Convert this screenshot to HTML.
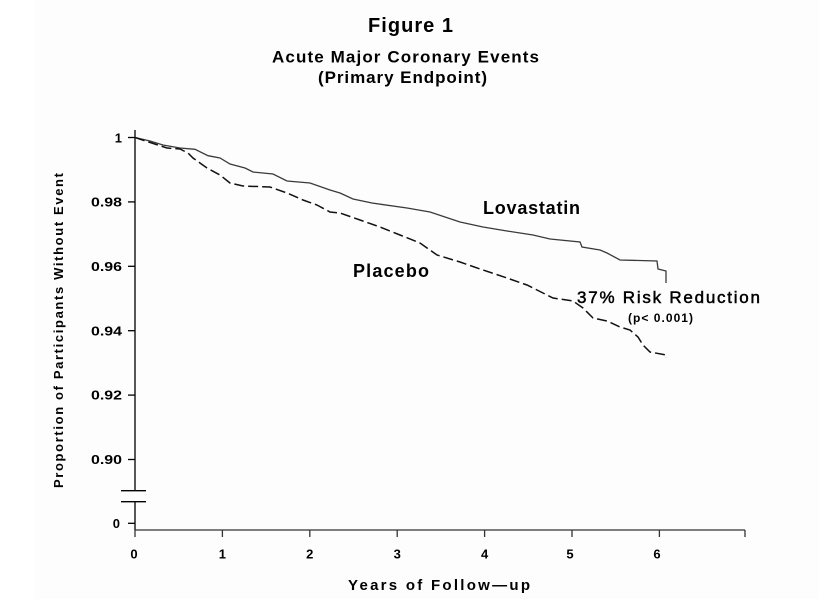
<!DOCTYPE html>
<html>
<head>
<meta charset="utf-8">
<style>
html,body{margin:0;padding:0;background:#fff;}
body{width:819px;height:599px;overflow:hidden;}
svg{display:block;}
text{font-family:"Liberation Sans",Arial,sans-serif;fill:#000;}
</style>
</head>
<body>
<svg width="819" height="599" viewBox="0 0 819 599" xmlns="http://www.w3.org/2000/svg">
<rect x="0" y="0" width="819" height="599" fill="#ffffff"/>
<rect x="35" y="0" width="784" height="599" fill="#fdfdfd"/>

<!-- Titles -->
<text x="368" y="32" font-size="20" font-weight="bold" textLength="85" lengthAdjust="spacing">Figure 1</text>
<text x="272" y="62.5" font-size="17" font-weight="bold" textLength="267" lengthAdjust="spacing">Acute Major Coronary Events</text>
<text x="318" y="83" font-size="17" font-weight="bold" textLength="169" lengthAdjust="spacing">(Primary Endpoint)</text>

<!-- Y axis -->
<g stroke="#000" stroke-width="1.3" fill="none">
<line x1="135" y1="130" x2="135" y2="490.7"/>
<line x1="135" y1="501.7" x2="135" y2="530"/>
<line x1="121" y1="490.7" x2="146" y2="490.7"/>
<line x1="121" y1="501.7" x2="146" y2="501.7"/>
<line x1="128" y1="137.5" x2="135" y2="137.5"/>
<line x1="128" y1="201.9" x2="135" y2="201.9"/>
<line x1="128" y1="266.3" x2="135" y2="266.3"/>
<line x1="128" y1="330.7" x2="135" y2="330.7"/>
<line x1="128" y1="395.1" x2="135" y2="395.1"/>
<line x1="128" y1="459.5" x2="135" y2="459.5"/>
<line x1="128" y1="523.3" x2="135" y2="523.3"/>
</g>
<!-- X axis -->
<g stroke="#333" stroke-width="1.3" fill="none">
<line x1="135" y1="530" x2="745" y2="530"/>
<line x1="135" y1="530" x2="135" y2="537"/>
<line x1="222.4" y1="530" x2="222.4" y2="537"/>
<line x1="309.8" y1="530" x2="309.8" y2="537"/>
<line x1="397.2" y1="530" x2="397.2" y2="537"/>
<line x1="484.6" y1="530" x2="484.6" y2="537"/>
<line x1="572" y1="530" x2="572" y2="537"/>
<line x1="659.4" y1="530" x2="659.4" y2="537"/>
<line x1="745" y1="530" x2="745" y2="537"/>
</g>

<!-- Y tick labels -->
<g font-size="13" font-weight="bold" text-anchor="end">
<text x="122" y="142.5">1</text>
<text x="122" y="206.5" textLength="31" lengthAdjust="spacingAndGlyphs">0.98</text>
<text x="122" y="271" textLength="31" lengthAdjust="spacingAndGlyphs">0.96</text>
<text x="122" y="335.3" textLength="31" lengthAdjust="spacingAndGlyphs">0.94</text>
<text x="122" y="399.7" textLength="31" lengthAdjust="spacingAndGlyphs">0.92</text>
<text x="122" y="464" textLength="31" lengthAdjust="spacingAndGlyphs">0.90</text>
<text x="120" y="528">0</text>
</g>

<!-- X tick labels -->
<g font-size="13" font-weight="bold" text-anchor="middle">
<text x="134" y="558.5">0</text>
<text x="222.4" y="558.5">1</text>
<text x="309.8" y="558.5">2</text>
<text x="397.2" y="558.5">3</text>
<text x="484.6" y="558.5">4</text>
<text x="570" y="558.5">5</text>
<text x="657" y="558.5">6</text>
</g>

<!-- Axis titles -->
<text x="348" y="590" font-size="15" font-weight="bold" textLength="182" lengthAdjust="spacing">Years of Follow—up</text>
<text transform="translate(63,488) rotate(-90)" font-size="13" font-weight="bold" textLength="315" lengthAdjust="spacing">Proportion of Participants Without Event</text>

<!-- Lovastatin (solid) -->
<polyline fill="none" stroke="#3a3a3a" stroke-width="1.3" points="135,137.5 150,141 163,145 180,148 195,149.3 208,155.7 220,158 230,164 245,168 253,172 273,174 287,181 310,183 330,190 340,193 353,199 372,203 407,208 430,212 460,222 483,227 507,231 533,235 550,239 580,242 582,247 600,250 607,253 620,260 657,261 658,269 666,271 666,283"/>

<!-- Placebo (dashed) -->
<polyline fill="none" stroke="#111" stroke-width="1.5" stroke-dasharray="10 4" points="135,137.5 160,145.7 167,148 180,149 188,153 193,158 207,168 220,175 230,183 243,186 270,187 287,193 303,200 317,205 330,212 340,213 360,220 380,227 400,235 420,243 437,255 460,262 483,270 507,278 527,285 543,293 553,298 573,301 583,308 593,318 607,321 620,327 630,330 638,337 643,345 650,352 666,355 666,358"/>

<!-- Annotations -->
<text x="483" y="214" font-size="18" font-weight="bold" textLength="97" lengthAdjust="spacing">Lovastatin</text>
<text x="353" y="277" font-size="18" font-weight="bold" textLength="76" lengthAdjust="spacing">Placebo</text>
<text x="577" y="303" font-size="17" stroke="#000" stroke-width="0.5" textLength="183" lengthAdjust="spacing">37% Risk Reduction</text>
<text x="628" y="322" font-size="12" font-weight="bold" textLength="65" lengthAdjust="spacing">(p&lt; 0.001)</text>
</svg>
</body>
</html>
